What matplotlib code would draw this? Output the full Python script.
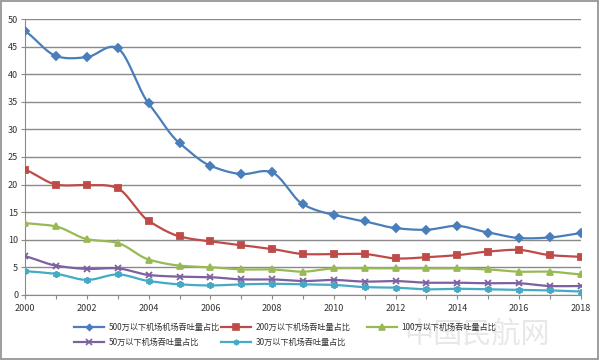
import numpy as np
import matplotlib
matplotlib.use("Agg")
import matplotlib.pyplot as plt
from matplotlib.patches import Rectangle

plt.rcParams['font.family'] = ['Noto Sans CJK SC', 'DejaVu Sans']

years = list(range(2000, 2019))
s500 = [47.8, 43.3, 43.1, 44.7, 34.7, 27.5, 23.4, 21.9, 22.2, 16.4, 14.5, 13.3, 12.1, 11.8, 12.5, 11.3, 10.3, 10.4, 11.2]
s200 = [22.7, 20.0, 19.9, 19.3, 13.4, 10.6, 9.7, 9.0, 8.3, 7.4, 7.4, 7.4, 6.6, 6.8, 7.2, 7.85, 8.15, 7.2, 6.9]
s100 = [13.0, 12.4, 10.1, 9.4, 6.4, 5.3, 5.0, 4.6, 4.6, 4.2, 4.8, 4.8, 4.8, 4.8, 4.8, 4.6, 4.2, 4.2, 3.7]
s50 = [7.0, 5.3, 4.7, 4.8, 3.6, 3.3, 3.2, 2.8, 2.8, 2.5, 2.7, 2.4, 2.5, 2.2, 2.2, 2.1, 2.1, 1.6, 1.6]
s30 = [4.3, 3.8, 2.7, 3.7, 2.5, 1.9, 1.7, 1.9, 2.0, 1.9, 1.8, 1.4, 1.3, 1.0, 1.1, 1.0, 0.9, 0.8, 0.6]
labels = ['500万以下机场机场吞吐量占比', '200万以下机场吞吐量占比', '100万以下机场吞吐量占比',
          '50万以下机场吞吐量占比', '30万以下机场吞吐量占比']
series = [s500, s200, s100, s50, s30]
colors = ['#4A7EBB', '#BE4B48', '#98B954', '#7D60A0', '#46AAC5']
markers = ['D', 's', '^', 'x', (6, 2, 0)]
msizes = [4, 5, 5, 5, 5]


def smooth(x, y, n=20, k=0.8):
    # cubic Hermite smoothing with reduced tangents (spreadsheet-like smoothed line)
    x = np.asarray(x, float); y = np.asarray(y, float)
    m = np.zeros_like(y)
    m[1:-1] = (y[2:] - y[:-2]) / 2 * k
    m[0] = (y[1] - y[0]) * k
    m[-1] = (y[-1] - y[-2]) * k
    xs, ys = [], []
    t = np.linspace(0, 1, n, endpoint=False)
    h00 = 2 * t ** 3 - 3 * t ** 2 + 1
    h10 = t ** 3 - 2 * t ** 2 + t
    h01 = -2 * t ** 3 + 3 * t ** 2
    h11 = t ** 3 - t ** 2
    for i in range(len(x) - 1):
        xs.extend(x[i] + t * (x[i + 1] - x[i]))
        ys.extend(h00 * y[i] + h10 * m[i] + h01 * y[i + 1] + h11 * m[i + 1])
    xs.append(x[-1]); ys.append(y[-1])
    return np.array(xs), np.array(ys)


fig = plt.figure(figsize=(6, 3.6), dpi=100)
fig.patches.append(Rectangle((0.002, 0.003), 0.995, 0.994, transform=fig.transFigure,
                             fill=False, edgecolor='#8C8C8C', linewidth=1.2))
ax = fig.add_axes([0.042, 0.181, 0.926, 0.766])

handles = []
for ys, c, m, ms, lab in zip(series, colors, markers, msizes, labels):
    sx, sy = smooth(years, ys)
    ax.plot(sx, sy, color=c, lw=1.6, zorder=3)
    ax.plot(years, ys, linestyle='none', marker=m, color=c, ms=ms, mew=1.3, zorder=4)
    h, = ax.plot([], [], color=c, lw=1.6, marker=m, ms=ms - 1, mew=1.2, label=lab)
    handles.append(h)

ax.set_xlim(2000, 2018)
ax.set_ylim(0, 50)
ax.set_yticks(np.arange(0, 51, 5))
ax.set_xticks(years)
ax.set_xticklabels([str(y) if y % 2 == 0 else '' for y in years])
ax.yaxis.grid(True, color='#8A8A8A', lw=1.0)
ax.set_axisbelow(True)
for s in ['top', 'right']:
    ax.spines[s].set_visible(False)
ax.spines['left'].set_color('#8A8A8A')
ax.spines['bottom'].set_color('#8A8A8A')
ax.tick_params(axis='both', labelsize=6.5, colors='#333333', length=3, width=0.8)
ax.tick_params(axis='both', color='#8A8A8A')
ax.tick_params(axis='y', pad=2)

# watermark
fig.text(0.795, 0.072, '中国民航网', fontsize=21, color='#E8E8E8', ha='center', va='center', zorder=0)

cols = [([0, 3], 74), ([1, 4], 221), ([2], 367)]
for idx, xpx in cols:
    leg = fig.legend(handles=[handles[i] for i in idx], loc='upper left',
                     bbox_to_anchor=(xpx / 600, 1 - 323 / 360), frameon=False,
                     fontsize=5.9, handlelength=3.7, handletextpad=0.5,
                     labelspacing=0.72, borderpad=0, borderaxespad=0)
    for t in leg.get_texts():
        t.set_color('#333333')

fig.savefig('out.png', dpi=100)
